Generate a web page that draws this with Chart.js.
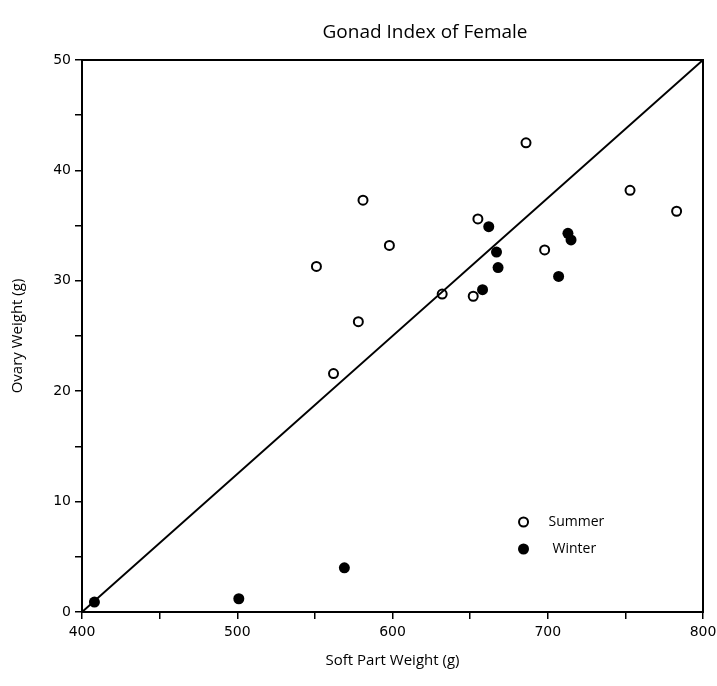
<!DOCTYPE html>
<html>
<head>
<meta charset="utf-8">
<script src="https://cdn.jsdelivr.net/npm/chart.js@4.4.0/dist/chart.umd.min.js"></script>
<style>
  body { margin: 0; background: #fff; }
  #wrap { width: 717px; height: 686px; }
</style>
</head>
<body>
<div id="wrap"><canvas id="gonad-chart"></canvas></div>
<script>
// Summer (open circles)
const summerX = [551, 562, 578, 581, 598, 632, 652, 655, 686, 698, 753, 783];
const summerY = [31.3, 21.6, 26.3, 37.3, 33.2, 28.8, 28.6, 35.6, 42.5, 32.8, 38.2, 36.3];
// Winter (filled circles)
const winterX = [408, 501, 569, 658, 662, 667, 668, 707, 713, 715];
const winterY = [0.9, 1.2, 4.0, 29.2, 34.9, 32.6, 31.2, 30.4, 34.3, 33.7];
// diagonal reference line
const lineX = [400, 800];
const lineY = [0, 50];

const seriesNames = ['Summer', 'Winter'];
const chartTitle = 'Gonad Index of Female';

const frameAndLegend = {
    id: 'frameAndLegend',
    afterDraw(chart) {
        const ctx = chart.ctx;
        const a = chart.chartArea;
        ctx.save();
        ctx.strokeStyle = '#000';
        ctx.lineWidth = 2;
        ctx.strokeRect(a.left, a.top, a.right - a.left, a.bottom - a.top);

        // title
        ctx.fillStyle = '#000';
        ctx.font = '19px "Open Sans"';
        ctx.textAlign = 'center';
        ctx.textBaseline = 'middle';
        ctx.fillText(chartTitle, 425, 33);

        // legend
        ctx.textAlign = 'left';
        ctx.font = '14px "Open Sans"';
        const lx = a.left + (a.right - a.left) * 0.711;
        const ly = [522, 549];
        ctx.beginPath();
        ctx.arc(lx, ly[0], 4.5, 0, Math.PI * 2);
        ctx.fillStyle = '#fff';
        ctx.fill();
        ctx.lineWidth = 2;
        ctx.stroke();
        ctx.beginPath();
        ctx.arc(lx, ly[1], 5.5, 0, Math.PI * 2);
        ctx.fillStyle = '#000';
        ctx.fill();
        ctx.fillText(seriesNames[0], lx + 25, ly[0]);
        ctx.fillText(seriesNames[1], lx + 29, ly[1]);
        ctx.restore();
    }
};

const data = {
    datasets: [{
        label: 'Line',
        type: 'line',
        data: lineX.map((x, i) => ({ x: x, y: lineY[i] })),
        borderColor: '#000',
        borderWidth: 2,
        pointRadius: 0,
        fill: false
    }, {
        label: seriesNames[0],
        data: summerX.map((x, i) => ({ x: x, y: summerY[i] })),
        backgroundColor: '#fff',
        borderColor: '#000',
        borderWidth: 2,
        pointRadius: 4.5
    }, {
        label: seriesNames[1],
        data: winterX.map((x, i) => ({ x: x, y: winterY[i] })),
        backgroundColor: '#000',
        borderColor: '#000',
        borderWidth: 0,
        pointRadius: 5.5
    }]
};

const tickFont = { family: '"DejaVu Sans"', size: 14 };
const titleFont = { family: '"Open Sans"', size: 15 };

const options = {
    responsive: true,
    maintainAspectRatio: false,
    animation: false,
    layout: { padding: { top: 60, right: 14, left: 0, bottom: 0 } },
    plugins: { legend: { display: false }, tooltip: { enabled: false } },
    scales: {
        x: {
            type: 'linear',
            position: 'bottom',
            min: 400,
            max: 800,
            afterFit: (s) => { s.height = 74; s.paddingLeft = 0; s.paddingRight = 0; },
            border: { color: '#000', width: 2 },
            grid: { drawOnChartArea: false, drawTicks: true, tickLength: 7, color: '#000', lineWidth: 1.5 },
            ticks: {
                stepSize: 50,
                color: '#000',
                font: tickFont,
                padding: 5,
                maxRotation: 0,
                callback: (v) => (v % 100 === 0 ? v : '')
            },
            title: { display: true, text: 'Soft Part Weight (g)', color: '#000', font: titleFont, padding: { top: 4, bottom: 16 } }
        },
        y: {
            type: 'linear',
            min: 0,
            max: 50,
            afterFit: (s) => { s.width = 82; s.paddingTop = 0; s.paddingBottom = 0; },
            border: { color: '#000', width: 2 },
            grid: { drawOnChartArea: false, drawTicks: true, tickLength: 7, color: '#000', lineWidth: 1.5 },
            ticks: {
                stepSize: 5,
                color: '#000',
                font: tickFont,
                padding: 4,
                callback: (v) => (v % 10 === 0 ? v : '')
            },
            title: { display: true, text: 'Ovary Weight (g)', color: '#000', font: titleFont, padding: { top: 9, bottom: 0 } }
        }
    }
};

const ctx = document.getElementById('gonad-chart').getContext('2d');
const gonadChart = new Chart(ctx, {
    type: 'scatter',
    data: data,
    options: options,
    plugins: [frameAndLegend]
});
</script>
</body>
</html>
